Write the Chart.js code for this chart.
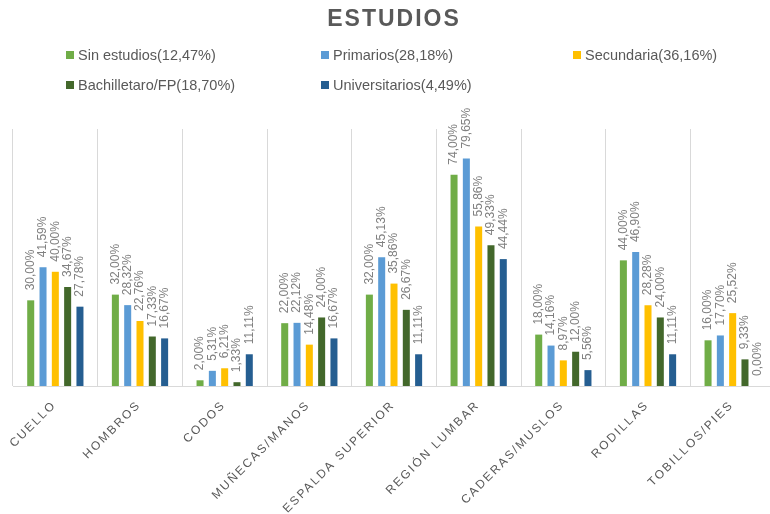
<!DOCTYPE html>
<html lang="es">
<head>
<meta charset="utf-8">
<title>Estudios</title>
<script src="https://cdn.jsdelivr.net/npm/chart.js@4.4.1/dist/chart.umd.min.js"></script>
<style>
  html, body { margin: 0; padding: 0; background: #fff; overflow: hidden; }
  #wrap { position: relative; width: 780px; height: 514px; }
  #legend { position: absolute; left: 0; top: 0; width: 770px; height: 100px;
            font-family: 'Liberation Sans', Arial, sans-serif; font-size: 14.5px; color: #595959; }
  .item { position: absolute; white-space: nowrap; line-height: 18px; transform: translateY(-50%); }
  .box { position: absolute; left: -12px; top: 5px; width: 8px; height: 8px; }
</style>
</head>
<body>
<div id="wrap">
  <canvas id="chart" width="780" height="514"></canvas>
  <div id="legend"></div>
</div>
<script>
document.addEventListener('DOMContentLoaded', () => {
    const categories = ['CUELLO', 'HOMBROS', 'CODOS', 'MUÑECAS/MANOS', 'ESPALDA SUPERIOR',
        'REGIÓN LUMBAR', 'CADERAS/MUSLOS', 'RODILLAS', 'TOBILLOS/PIES'];

    const seriesNames = ['Sin estudios(12,47%)', 'Primarios(28,18%)', 'Secundaria(36,16%)',
        'Bachilletaro/FP(18,70%)', 'Universitarios(4,49%)'];
    const seriesColors = ['#70AD47', '#5B9BD5', '#FFC000', '#43682B', '#255E91'];

    const sinEstudios = [30.00, 32.00, 2.00, 22.00, 32.00, 74.00, 18.00, 44.00, 16.00];
    const primarios = [41.59, 28.32, 5.31, 22.12, 45.13, 79.65, 14.16, 46.90, 17.70];
    const secundaria = [40.00, 22.76, 6.21, 14.48, 35.86, 55.86, 8.97, 28.28, 25.52];
    const bachillerato = [34.67, 17.33, 1.33, 24.00, 26.67, 49.33, 12.00, 24.00, 9.33];
    const universitarios = [27.78, 16.67, 11.11, 16.67, 11.11, 44.44, 5.56, 11.11, 0.00];

    const seriesValues = [sinEstudios, primarios, secundaria, bachillerato, universitarios];

    // legend laid out in three fixed columns, two rows
    const legendSpots = [[78, 55], [333, 55], [585, 55], [78, 85], [333, 85]];
    const legend = document.getElementById('legend');
    seriesNames.forEach((name, i) => {
        const item = document.createElement('div');
        item.className = 'item';
        item.style.left = legendSpots[i][0] + 'px';
        item.style.top = legendSpots[i][1] + 'px';
        const box = document.createElement('span');
        box.className = 'box';
        box.style.background = seriesColors[i];
        item.appendChild(box);
        item.appendChild(document.createTextNode(name));
        legend.appendChild(item);
    });

    const fmt = v => v.toFixed(2).replace('.', ',') + '%';

    // spaced lettering for title and category labels
    const spacing = {
        id: 'spacing',
        beforeLayout(chart) { chart.ctx.letterSpacing = '2px'; },
        beforeDraw(chart) { chart.ctx.letterSpacing = '2px'; }
    };

    // vertical value labels above each bar
    const barLabels = {
        id: 'barLabels',
        afterDatasetsDraw(chart) {
            const ctx = chart.ctx;
            ctx.save();
            ctx.letterSpacing = '0px';
            ctx.font = '12px "Liberation Sans", Arial, sans-serif';
            ctx.fillStyle = '#808080';
            ctx.textAlign = 'left';
            ctx.textBaseline = 'middle';
            chart.data.datasets.forEach((ds, di) => {
                chart.getDatasetMeta(di).data.forEach((bar, i) => {
                    ctx.save();
                    ctx.translate(bar.x, bar.y - 10);
                    ctx.rotate(-Math.PI / 2);
                    ctx.fillText(fmt(ds.data[i]), 0, 0);
                    ctx.restore();
                });
            });
            ctx.restore();
        }
    };

    new Chart(document.getElementById('chart'), {
        type: 'bar',
        data: {
            labels: categories,
            datasets: seriesNames.map((name, i) => ({
                label: name,
                data: seriesValues[i],
                backgroundColor: seriesColors[i],
                borderWidth: 0,
                categoryPercentage: 0.727,
                barPercentage: 0.57
            }))
        },
        options: {
            responsive: false,
            animation: false,
            layout: { padding: { left: 13, right: 5, top: 0, bottom: 0 } },
            plugins: {
                legend: { display: false },
                tooltip: { enabled: false },
                title: {
                    display: true,
                    text: 'ESTUDIOS',
                    color: '#595959',
                    font: { family: '"Liberation Sans", Arial, sans-serif', size: 23, weight: 'bold' },
                    padding: { top: 6, bottom: 95.4 }
                }
            },
            scales: {
                x: {
                    grid: { color: '#D9D9D9', drawTicks: false, offset: true },
                    border: { color: '#D9D9D9' },
                    ticks: {
                        color: '#595959',
                        font: { family: '"Liberation Sans", Arial, sans-serif', size: 12 },
                        minRotation: 45,
                        maxRotation: 45,
                        autoSkip: false,
                        padding: 12,
                        labelOffset: -1
                    },
                    afterFit(scale) {
                        scale.height = 128;
                        scale.paddingLeft = 0;
                        scale.paddingRight = 0;
                    }
                },
                y: { display: false, min: 0, max: 90 }
            }
        },
        plugins: [spacing, barLabels]
    });
});
</script>
</body>
</html>
